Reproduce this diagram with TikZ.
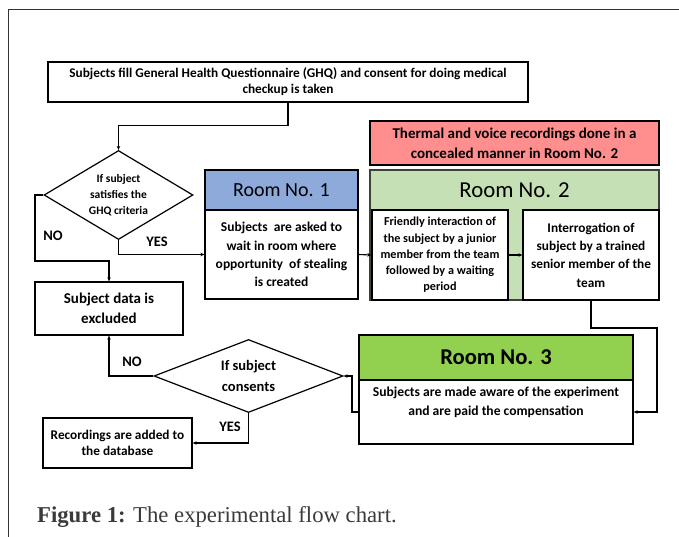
\documentclass[tikz,border=0pt]{standalone}
\usepackage{fontspec}
\setmainfont{Carlito}
\newfontfamily\capfont{Liberation Serif}
\usetikzlibrary{shapes.geometric,arrows.meta,shadows}
\definecolor{roomblue}{HTML}{8EAADB}
\definecolor{roompink}{HTML}{FF8E8E}
\definecolor{roomlgreen}{HTML}{C5E0B4}
\definecolor{roomgreen}{HTML}{92D050}
\definecolor{capgray}{HTML}{3A3A3A}
\tikzset{
  box/.style={draw=black, line width=1.3pt, fill=white, align=center, inner sep=0pt,
    drop shadow={shadow xshift=1.2pt, shadow yshift=-1.2pt, fill=black!55, opacity=.6}},
  dia/.style={draw=black, line width=1.2pt, fill=white, diamond, align=center, inner sep=0pt},
  conn/.style={draw=black, line width=1.1pt},
  arr/.style={conn, -{Stealth[length=4pt,width=3.5pt]}},
  lbl/.style={font=\bfseries\fontsize{14.5}{16}\selectfont},
}
\begin{document}
\begin{tikzpicture}[x=1pt,y=-1pt]
\useasboundingbox (0,0) rectangle (679,537);
\draw[line width=1pt, black!80] (679,10) -- (8,10) -- (8,537);

% top box
\node[box, minimum width=480, minimum height=40, font=\bfseries\fontsize{13.3}{16}\selectfont] (top) at (288,82)
  {Subjects fill General Health Questionnaire (GHQ) and consent for doing medical\\checkup is taken};

% decision 1
\node[dia, minimum width=149, minimum height=89, shape aspect=1.67, font=\bfseries\fontsize{11.5}{16}\selectfont] (d1) at (118.5,195)
  {If subject\\satisfies the\\GHQ criteria};

% excluded
\node[box, minimum width=148, minimum height=53, font=\bfseries\fontsize{15}{20}\selectfont] (ex) at (109,308.5)
  {Subject data is\\excluded};

% room 1
\node[box, fill=roomblue, minimum width=153, minimum height=40, font=\fontsize{20}{22}\selectfont] (r1h) at (281.5,190) {Room No. 1};
\node[box, minimum width=153, minimum height=89, font=\bfseries\fontsize{13.5}{18.3}\selectfont] (r1b) at (281.5,254.5)
  {Subjects\ \ are asked to\\wait in room where\\opportunity\ \ of stealing\\is created};

% room 2
\node[box, fill=roompink, minimum width=289, minimum height=44, font=\bfseries\fontsize{15}{20}\selectfont] (pink) at (514.5,143)
  {Thermal and voice recordings done in a\\concealed manner in Room No. 2};
\node[box, draw=black!70!roomlgreen, fill=roomlgreen, minimum width=289, minimum height=130] (r2) at (514.5,235) {};
\node[font=\fontsize{22.8}{24}\selectfont] (r2t) at (514.5,190) {Room No. 2};
\node[box, minimum width=136, minimum height=90, font=\bfseries\fontsize{12.2}{16.3}\selectfont] (r2a) at (440,255)
  {Friendly interaction of\\the subject by a junior\\member from the team\\followed by a waiting\\period};
\node[box, minimum width=136, minimum height=90, font=\bfseries\fontsize{13.3}{18.3}\selectfont] (r2b) at (591,255)
  {Interrogation of\\subject by a trained\\senior member of the\\team};

% room 3
\node[box, fill=roomgreen, minimum width=274, minimum height=45, font=\bfseries\fontsize{22.6}{24}\selectfont] (r3h) at (496,357.5) {Room No. 3};
\node[box, minimum width=274, minimum height=64] (r3b) at (496,412) {};
\node[font=\bfseries\fontsize{13.6}{19}\selectfont, align=center] (r3t) at (496,402)
  {Subjects are made aware of the experiment\\and are paid the compensation};

% decision 2
\node[dia, minimum width=189, minimum height=73, shape aspect=2.59, font=\bfseries\fontsize{14.5}{21}\selectfont] (d2) at (248.5,376)
  {If subject\\consents};

% recordings
\node[box, minimum width=149, minimum height=50, font=\bfseries\fontsize{13.3}{15.7}\selectfont] (rec) at (117.5,443)
  {Recordings are added to\\the database};

% connectors
\coordinate (c1) at (35,261);
\coordinate (c2) at (657,328);
\coordinate (c3) at (352,412);
\draw[arr] (top.south) -- ++(0,23) -| (d1.north);
\draw[arr] (d1.west) -| (c1) -| (ex.north);
\draw[arr] (d1.south) |- (r1b.west);
\draw[arr] (r1b.east) -- (r2a.west);
\draw[arr] (r2a.east) -- (r2b.west);
\draw[arr] (r2b.south) |- (c2) |- (r3b.east);
\draw[arr] (r3b.west) -- (c3) |- (d2.east);
\draw[arr] (d2.west) -| (ex.south);
\draw[arr] (d2.south) |- (rec.east);

% labels
\node[lbl] (no1) at (53,236) {NO};
\node[lbl] (yes1) at (157,242) {YES};
\node[lbl] (no2) at (132,362) {NO};
\node[lbl] (yes2) at (230,427) {YES};

% caption
\node[anchor=base west, inner sep=0pt, text=capgray, font=\capfont\fontsize{22.7}{26}\selectfont] (cap) at (37,522)
  {\textbf{Figure 1:} The experimental flow chart.};
\end{tikzpicture}
\end{document}
